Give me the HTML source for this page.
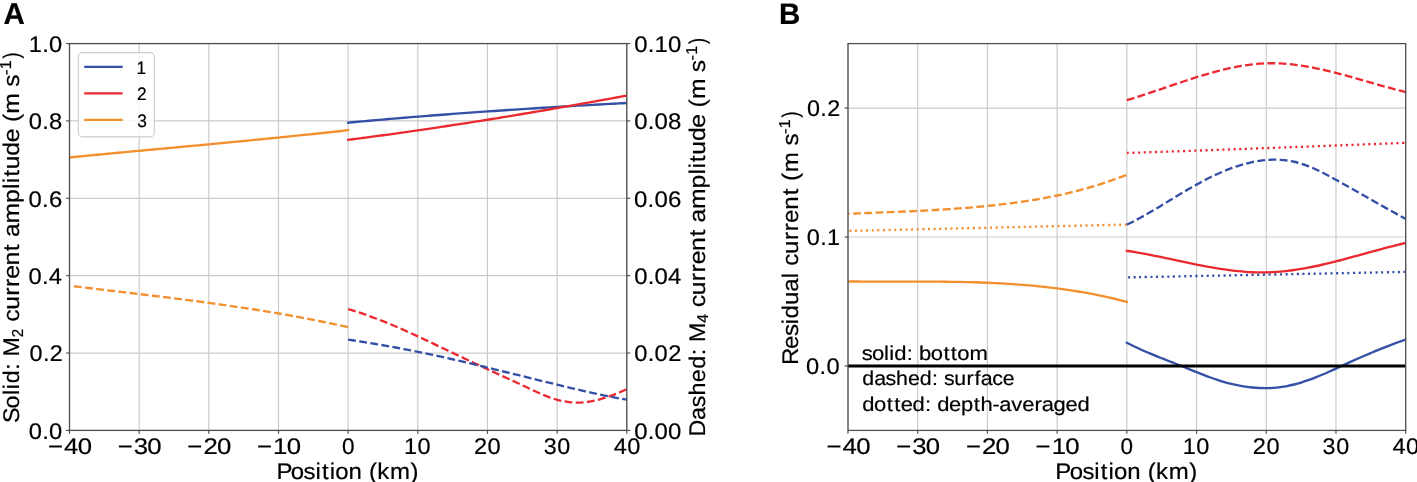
<!DOCTYPE html>
<html><head><meta charset="utf-8"><style>
html,body{margin:0;padding:0;background:#fff;}
body{width:1417px;height:482px;overflow:hidden;}
svg{display:block;will-change:transform;}
text{font-family:"Liberation Sans", sans-serif;stroke:#000;stroke-width:0.2px;text-rendering:geometricPrecision;}
</style></head><body>
<svg width="1417" height="482" viewBox="0 0 1417 482" font-family="&quot;Liberation Sans&quot;, sans-serif" stroke-width="0">
<rect width="1417" height="482" fill="#fff"/>
<line x1="69.50" y1="43.55" x2="69.50" y2="430.42" stroke="#cbcbcb" stroke-width="1.2"/>
<line x1="139.16" y1="43.55" x2="139.16" y2="430.42" stroke="#cbcbcb" stroke-width="1.2"/>
<line x1="208.82" y1="43.55" x2="208.82" y2="430.42" stroke="#cbcbcb" stroke-width="1.2"/>
<line x1="278.49" y1="43.55" x2="278.49" y2="430.42" stroke="#cbcbcb" stroke-width="1.2"/>
<line x1="348.15" y1="43.55" x2="348.15" y2="430.42" stroke="#cbcbcb" stroke-width="1.2"/>
<line x1="417.81" y1="43.55" x2="417.81" y2="430.42" stroke="#cbcbcb" stroke-width="1.2"/>
<line x1="487.47" y1="43.55" x2="487.47" y2="430.42" stroke="#cbcbcb" stroke-width="1.2"/>
<line x1="557.14" y1="43.55" x2="557.14" y2="430.42" stroke="#cbcbcb" stroke-width="1.2"/>
<line x1="626.80" y1="43.55" x2="626.80" y2="430.42" stroke="#cbcbcb" stroke-width="1.2"/>
<line x1="69.50" y1="430.42" x2="626.80" y2="430.42" stroke="#cbcbcb" stroke-width="1.2"/>
<line x1="69.50" y1="353.05" x2="626.80" y2="353.05" stroke="#cbcbcb" stroke-width="1.2"/>
<line x1="69.50" y1="275.67" x2="626.80" y2="275.67" stroke="#cbcbcb" stroke-width="1.2"/>
<line x1="69.50" y1="198.30" x2="626.80" y2="198.30" stroke="#cbcbcb" stroke-width="1.2"/>
<line x1="69.50" y1="120.92" x2="626.80" y2="120.92" stroke="#cbcbcb" stroke-width="1.2"/>
<line x1="69.50" y1="43.55" x2="626.80" y2="43.55" stroke="#cbcbcb" stroke-width="1.2"/>
<line x1="848.00" y1="43.60" x2="848.00" y2="430.42" stroke="#cbcbcb" stroke-width="1.2"/>
<line x1="917.71" y1="43.60" x2="917.71" y2="430.42" stroke="#cbcbcb" stroke-width="1.2"/>
<line x1="987.42" y1="43.60" x2="987.42" y2="430.42" stroke="#cbcbcb" stroke-width="1.2"/>
<line x1="1057.13" y1="43.60" x2="1057.13" y2="430.42" stroke="#cbcbcb" stroke-width="1.2"/>
<line x1="1126.84" y1="43.60" x2="1126.84" y2="430.42" stroke="#cbcbcb" stroke-width="1.2"/>
<line x1="1196.54" y1="43.60" x2="1196.54" y2="430.42" stroke="#cbcbcb" stroke-width="1.2"/>
<line x1="1266.25" y1="43.60" x2="1266.25" y2="430.42" stroke="#cbcbcb" stroke-width="1.2"/>
<line x1="1335.96" y1="43.60" x2="1335.96" y2="430.42" stroke="#cbcbcb" stroke-width="1.2"/>
<line x1="1405.67" y1="43.60" x2="1405.67" y2="430.42" stroke="#cbcbcb" stroke-width="1.2"/>
<line x1="848.00" y1="365.95" x2="1405.67" y2="365.95" stroke="#cbcbcb" stroke-width="1.2"/>
<line x1="848.00" y1="237.01" x2="1405.67" y2="237.01" stroke="#cbcbcb" stroke-width="1.2"/>
<line x1="848.00" y1="108.07" x2="1405.67" y2="108.07" stroke="#cbcbcb" stroke-width="1.2"/>
<defs><clipPath id="ca"><rect x="69.50" y="43.55" width="557.30" height="386.87"/></clipPath><clipPath id="cb"><rect x="848.00" y="43.60" width="557.67" height="386.82"/></clipPath></defs>
<g clip-path="url(#ca)">
<path d="M69.50,157.40 C70.66,157.29 74.14,156.95 76.47,156.73 C78.79,156.50 81.11,156.28 83.43,156.06 C85.75,155.83 88.08,155.61 90.40,155.39 C92.72,155.17 95.04,154.95 97.36,154.73 C99.69,154.51 102.01,154.29 104.33,154.07 C106.65,153.85 108.98,153.63 111.30,153.41 C113.62,153.19 115.94,152.97 118.26,152.75 C120.59,152.54 122.91,152.32 125.23,152.10 C127.55,151.88 129.87,151.67 132.20,151.45 C134.52,151.23 136.84,151.02 139.16,150.80 C141.48,150.58 143.81,150.37 146.13,150.15 C148.45,149.94 150.77,149.72 153.09,149.50 C155.42,149.29 157.74,149.07 160.06,148.86 C162.38,148.64 164.71,148.42 167.03,148.21 C169.35,147.99 171.67,147.78 173.99,147.56 C176.32,147.34 178.64,147.13 180.96,146.91 C183.28,146.69 185.60,146.48 187.93,146.26 C190.25,146.04 192.57,145.83 194.89,145.61 C197.21,145.39 199.54,145.17 201.86,144.96 C204.18,144.74 206.50,144.52 208.82,144.30 C211.15,144.08 213.47,143.86 215.79,143.64 C218.11,143.42 220.44,143.20 222.76,142.98 C225.08,142.76 227.40,142.54 229.72,142.32 C232.05,142.10 234.37,141.87 236.69,141.65 C239.01,141.43 241.33,141.20 243.66,140.98 C245.98,140.75 248.30,140.53 250.62,140.30 C252.94,140.08 255.27,139.85 257.59,139.62 C259.91,139.39 262.23,139.17 264.55,138.94 C266.88,138.71 269.20,138.48 271.52,138.25 C273.84,138.02 276.17,137.78 278.49,137.55 C280.81,137.32 283.13,137.08 285.45,136.85 C287.78,136.61 290.10,136.38 292.42,136.14 C294.74,135.90 297.06,135.66 299.39,135.42 C301.71,135.18 304.03,134.94 306.35,134.70 C308.67,134.46 311.00,134.22 313.32,133.97 C315.64,133.73 317.96,133.48 320.28,133.23 C322.61,132.99 324.93,132.74 327.25,132.49 C329.57,132.24 331.90,131.99 334.22,131.73 C336.54,131.48 338.86,131.23 341.18,130.97 C343.51,130.72 346.99,130.33 348.15,130.20" fill="none" stroke="#f2902e" stroke-width="2.35" stroke-linejoin="round" stroke-linecap="square"/>
<path d="M348.15,122.69 C349.31,122.58 352.79,122.26 355.12,122.04 C357.44,121.83 359.76,121.62 362.08,121.40 C364.40,121.19 366.73,120.98 369.05,120.78 C371.37,120.57 373.69,120.36 376.01,120.16 C378.34,119.95 380.66,119.75 382.98,119.55 C385.30,119.35 387.63,119.15 389.95,118.95 C392.27,118.75 394.59,118.55 396.91,118.36 C399.24,118.16 401.56,117.97 403.88,117.78 C406.20,117.58 408.52,117.39 410.85,117.20 C413.17,117.01 415.49,116.83 417.81,116.64 C420.13,116.45 422.46,116.27 424.78,116.08 C427.10,115.90 429.42,115.72 431.75,115.54 C434.07,115.36 436.39,115.18 438.71,115.00 C441.03,114.82 443.36,114.64 445.68,114.47 C448.00,114.29 450.32,114.12 452.64,113.94 C454.97,113.77 457.29,113.60 459.61,113.43 C461.93,113.26 464.25,113.09 466.58,112.92 C468.90,112.75 471.22,112.58 473.54,112.42 C475.86,112.25 478.19,112.09 480.51,111.93 C482.83,111.76 485.15,111.60 487.47,111.44 C489.80,111.28 492.12,111.12 494.44,110.96 C496.76,110.80 499.09,110.65 501.41,110.49 C503.73,110.33 506.05,110.18 508.37,110.02 C510.70,109.87 513.02,109.72 515.34,109.56 C517.66,109.41 519.98,109.26 522.31,109.11 C524.63,108.96 526.95,108.81 529.27,108.67 C531.59,108.52 533.92,108.37 536.24,108.23 C538.56,108.08 540.88,107.93 543.20,107.79 C545.53,107.65 547.85,107.50 550.17,107.36 C552.49,107.22 554.82,107.08 557.14,106.94 C559.46,106.80 561.78,106.66 564.10,106.52 C566.43,106.38 568.75,106.25 571.07,106.11 C573.39,105.97 575.71,105.84 578.04,105.70 C580.36,105.57 582.68,105.44 585.00,105.30 C587.32,105.17 589.65,105.04 591.97,104.91 C594.29,104.77 596.61,104.64 598.93,104.51 C601.26,104.38 603.58,104.25 605.90,104.13 C608.22,104.00 610.55,103.87 612.87,103.74 C615.19,103.62 617.51,103.49 619.83,103.36 C622.16,103.24 625.64,103.05 626.80,102.99" fill="none" stroke="#3450a6" stroke-width="2.35" stroke-linejoin="round" stroke-linecap="square"/>
<path d="M348.15,139.81 C349.31,139.66 352.79,139.22 355.12,138.92 C357.44,138.63 359.76,138.33 362.08,138.03 C364.40,137.73 366.73,137.42 369.05,137.12 C371.37,136.81 373.69,136.50 376.01,136.19 C378.34,135.88 380.66,135.57 382.98,135.26 C385.30,134.94 387.63,134.62 389.95,134.31 C392.27,133.99 394.59,133.67 396.91,133.34 C399.24,133.02 401.56,132.69 403.88,132.37 C406.20,132.04 408.52,131.71 410.85,131.38 C413.17,131.05 415.49,130.71 417.81,130.38 C420.13,130.04 422.46,129.70 424.78,129.36 C427.10,129.02 429.42,128.68 431.75,128.34 C434.07,128.00 436.39,127.65 438.71,127.30 C441.03,126.96 443.36,126.61 445.68,126.25 C448.00,125.90 450.32,125.55 452.64,125.19 C454.97,124.84 457.29,124.48 459.61,124.12 C461.93,123.77 464.25,123.41 466.58,123.04 C468.90,122.68 471.22,122.32 473.54,121.95 C475.86,121.58 478.19,121.22 480.51,120.85 C482.83,120.48 485.15,120.11 487.47,119.73 C489.80,119.36 492.12,118.99 494.44,118.61 C496.76,118.23 499.09,117.86 501.41,117.48 C503.73,117.10 506.05,116.72 508.37,116.33 C510.70,115.95 513.02,115.57 515.34,115.18 C517.66,114.80 519.98,114.41 522.31,114.02 C524.63,113.63 526.95,113.24 529.27,112.85 C531.59,112.46 533.92,112.06 536.24,111.67 C538.56,111.27 540.88,110.88 543.20,110.48 C545.53,110.08 547.85,109.68 550.17,109.28 C552.49,108.88 554.82,108.48 557.14,108.08 C559.46,107.67 561.78,107.27 564.10,106.86 C566.43,106.46 568.75,106.05 571.07,105.64 C573.39,105.23 575.71,104.82 578.04,104.41 C580.36,104.00 582.68,103.59 585.00,103.18 C587.32,102.76 589.65,102.35 591.97,101.93 C594.29,101.51 596.61,101.10 598.93,100.68 C601.26,100.26 603.58,99.84 605.90,99.42 C608.22,99.00 610.55,98.58 612.87,98.16 C615.19,97.73 617.51,97.31 619.83,96.88 C622.16,96.46 625.64,95.82 626.80,95.61" fill="none" stroke="#ea2a30" stroke-width="2.35" stroke-linejoin="round" stroke-linecap="square"/>
<path d="M69.50,285.71 C70.66,285.85 74.14,286.28 76.47,286.56 C78.79,286.85 81.11,287.13 83.43,287.41 C85.75,287.69 88.08,287.97 90.40,288.25 C92.72,288.53 95.04,288.80 97.36,289.08 C99.69,289.36 102.01,289.64 104.33,289.91 C106.65,290.19 108.98,290.47 111.30,290.74 C113.62,291.02 115.94,291.29 118.26,291.57 C120.59,291.85 122.91,292.12 125.23,292.40 C127.55,292.67 129.87,292.95 132.20,293.23 C134.52,293.50 136.84,293.78 139.16,294.06 C141.48,294.34 143.81,294.62 146.13,294.90 C148.45,295.18 150.77,295.46 153.09,295.74 C155.42,296.02 157.74,296.31 160.06,296.59 C162.38,296.88 164.71,297.16 167.03,297.45 C169.35,297.74 171.67,298.03 173.99,298.32 C176.32,298.61 178.64,298.90 180.96,299.20 C183.28,299.50 185.60,299.79 187.93,300.09 C190.25,300.39 192.57,300.69 194.89,301.00 C197.21,301.30 199.54,301.61 201.86,301.92 C204.18,302.23 206.50,302.54 208.82,302.86 C211.15,303.18 213.47,303.49 215.79,303.82 C218.11,304.14 220.44,304.46 222.76,304.79 C225.08,305.12 227.40,305.45 229.72,305.79 C232.05,306.13 234.37,306.46 236.69,306.81 C239.01,307.15 241.33,307.50 243.66,307.85 C245.98,308.20 248.30,308.56 250.62,308.92 C252.94,309.28 255.27,309.64 257.59,310.01 C259.91,310.38 262.23,310.75 264.55,311.13 C266.88,311.51 269.20,311.89 271.52,312.28 C273.84,312.67 276.17,313.06 278.49,313.46 C280.81,313.86 283.13,314.26 285.45,314.67 C287.78,315.08 290.10,315.49 292.42,315.91 C294.74,316.34 297.06,316.76 299.39,317.19 C301.71,317.62 304.03,318.06 306.35,318.51 C308.67,318.95 311.00,319.40 313.32,319.86 C315.64,320.31 317.96,320.78 320.28,321.25 C322.61,321.72 324.93,322.19 327.25,322.67 C329.57,323.16 331.90,323.65 334.22,324.14 C336.54,324.64 338.86,325.14 341.18,325.65 C343.51,326.17 346.99,326.95 348.15,327.21" fill="none" stroke="#f2902e" stroke-width="2.35" stroke-linejoin="round" stroke-dasharray="7.83 3.39" stroke-dashoffset="6.80"/>
<path d="M348.15,309.17 C349.31,309.52 352.79,310.52 355.12,311.24 C357.44,311.96 359.76,312.71 362.08,313.49 C364.40,314.27 366.73,315.07 369.05,315.91 C371.37,316.74 373.69,317.60 376.01,318.48 C378.34,319.36 380.66,320.27 382.98,321.20 C385.30,322.13 387.63,323.08 389.95,324.04 C392.27,325.01 394.59,325.99 396.91,327.00 C399.24,328.00 401.56,329.02 403.88,330.05 C406.20,331.08 408.52,332.12 410.85,333.18 C413.17,334.23 415.49,335.30 417.81,336.38 C420.13,337.45 422.46,338.54 424.78,339.63 C427.10,340.72 429.42,341.82 431.75,342.92 C434.07,344.02 436.39,345.13 438.71,346.24 C441.03,347.34 443.36,348.45 445.68,349.56 C448.00,350.67 450.32,351.77 452.64,352.88 C454.97,353.98 457.29,355.08 459.61,356.18 C461.93,357.27 464.25,358.37 466.58,359.46 C468.90,360.55 471.22,361.63 473.54,362.72 C475.86,363.80 478.19,364.88 480.51,365.96 C482.83,367.04 485.15,368.12 487.47,369.19 C489.80,370.26 492.12,371.33 494.44,372.40 C496.76,373.47 499.09,374.54 501.41,375.60 C503.73,376.67 506.05,377.73 508.37,378.79 C510.70,379.86 513.02,380.92 515.34,381.99 C517.66,383.07 519.98,384.15 522.31,385.24 C524.63,386.34 526.95,387.46 529.27,388.55 C531.59,389.64 533.92,390.75 536.24,391.80 C538.56,392.85 540.88,393.89 543.20,394.85 C545.53,395.81 547.85,396.74 550.17,397.56 C552.49,398.38 554.82,399.14 557.14,399.78 C559.46,400.41 561.78,400.96 564.10,401.38 C566.43,401.81 568.75,402.13 571.07,402.34 C573.39,402.55 575.71,402.64 578.04,402.63 C580.36,402.61 582.68,402.47 585.00,402.23 C587.32,402.00 589.65,401.64 591.97,401.20 C594.29,400.77 596.61,400.22 598.93,399.61 C601.26,399.00 603.58,398.30 605.90,397.54 C608.22,396.78 610.55,395.94 612.87,395.06 C615.19,394.17 617.51,393.23 619.83,392.25 C622.16,391.27 625.64,389.70 626.80,389.19" fill="none" stroke="#ea2a30" stroke-width="2.35" stroke-linejoin="round" stroke-dasharray="7.83 3.39" stroke-dashoffset="0.00"/>
<path d="M348.15,339.62 C349.31,339.79 352.79,340.32 355.12,340.67 C357.44,341.03 359.76,341.40 362.08,341.77 C364.40,342.14 366.73,342.51 369.05,342.89 C371.37,343.27 373.69,343.66 376.01,344.05 C378.34,344.45 380.66,344.85 382.98,345.25 C385.30,345.66 387.63,346.07 389.95,346.48 C392.27,346.90 394.59,347.32 396.91,347.75 C399.24,348.18 401.56,348.62 403.88,349.06 C406.20,349.50 408.52,349.95 410.85,350.40 C413.17,350.86 415.49,351.32 417.81,351.78 C420.13,352.25 422.46,352.72 424.78,353.20 C427.10,353.68 429.42,354.16 431.75,354.66 C434.07,355.15 436.39,355.65 438.71,356.15 C441.03,356.66 443.36,357.17 445.68,357.68 C448.00,358.20 450.32,358.73 452.64,359.26 C454.97,359.79 457.29,360.32 459.61,360.87 C461.93,361.41 464.25,361.96 466.58,362.51 C468.90,363.06 471.22,363.62 473.54,364.18 C475.86,364.74 478.19,365.30 480.51,365.86 C482.83,366.43 485.15,366.99 487.47,367.56 C489.80,368.13 492.12,368.70 494.44,369.27 C496.76,369.84 499.09,370.41 501.41,370.98 C503.73,371.55 506.05,372.12 508.37,372.69 C510.70,373.26 513.02,373.83 515.34,374.41 C517.66,374.98 519.98,375.55 522.31,376.12 C524.63,376.69 526.95,377.27 529.27,377.84 C531.59,378.41 533.92,378.98 536.24,379.55 C538.56,380.12 540.88,380.69 543.20,381.26 C545.53,381.83 547.85,382.40 550.17,382.97 C552.49,383.53 554.82,384.10 557.14,384.66 C559.46,385.23 561.78,385.79 564.10,386.35 C566.43,386.91 568.75,387.47 571.07,388.02 C573.39,388.57 575.71,389.12 578.04,389.66 C580.36,390.21 582.68,390.74 585.00,391.27 C587.32,391.80 589.65,392.32 591.97,392.84 C594.29,393.35 596.61,393.86 598.93,394.35 C601.26,394.84 603.58,395.33 605.90,395.80 C608.22,396.27 610.55,396.74 612.87,397.18 C615.19,397.63 617.51,398.07 619.83,398.49 C622.16,398.91 625.64,399.50 626.80,399.70" fill="none" stroke="#3450a6" stroke-width="2.35" stroke-linejoin="round" stroke-dasharray="7.83 3.39" stroke-dashoffset="0.00"/>
</g>
<g clip-path="url(#cb)">
<path d="M848.00,213.83 C849.16,213.78 852.65,213.64 854.97,213.54 C857.29,213.44 859.62,213.35 861.94,213.25 C864.27,213.16 866.59,213.07 868.91,212.98 C871.24,212.88 873.56,212.79 875.88,212.70 C878.21,212.61 880.53,212.51 882.85,212.42 C885.18,212.33 887.50,212.23 889.83,212.14 C892.15,212.04 894.47,211.94 896.80,211.85 C899.12,211.75 901.44,211.65 903.77,211.54 C906.09,211.44 908.41,211.34 910.74,211.23 C913.06,211.12 915.39,211.01 917.71,210.90 C920.03,210.78 922.36,210.67 924.68,210.55 C927.00,210.42 929.33,210.30 931.65,210.17 C933.97,210.04 936.30,209.91 938.62,209.77 C940.95,209.63 943.27,209.49 945.59,209.34 C947.92,209.19 950.24,209.03 952.56,208.87 C954.89,208.71 957.21,208.55 959.53,208.37 C961.86,208.20 964.18,208.02 966.50,207.84 C968.83,207.65 971.15,207.46 973.48,207.26 C975.80,207.06 978.12,206.85 980.45,206.63 C982.77,206.41 985.09,206.19 987.42,205.96 C989.74,205.72 992.06,205.48 994.39,205.23 C996.71,204.98 999.04,204.72 1001.36,204.45 C1003.68,204.18 1006.01,203.90 1008.33,203.60 C1010.65,203.31 1012.98,203.01 1015.30,202.69 C1017.62,202.38 1019.95,202.05 1022.27,201.71 C1024.60,201.37 1026.92,201.02 1029.24,200.65 C1031.57,200.28 1033.89,199.90 1036.21,199.50 C1038.54,199.11 1040.86,198.70 1043.18,198.27 C1045.51,197.85 1047.83,197.41 1050.16,196.95 C1052.48,196.49 1054.80,196.02 1057.13,195.52 C1059.45,195.03 1061.77,194.52 1064.10,194.00 C1066.42,193.47 1068.74,192.93 1071.07,192.36 C1073.39,191.80 1075.72,191.21 1078.04,190.61 C1080.36,190.01 1082.69,189.39 1085.01,188.74 C1087.33,188.10 1089.66,187.44 1091.98,186.75 C1094.30,186.06 1096.63,185.36 1098.95,184.63 C1101.28,183.90 1103.60,183.15 1105.92,182.37 C1108.25,181.59 1110.57,180.80 1112.89,179.97 C1115.22,179.15 1117.54,178.30 1119.86,177.43 C1122.19,176.56 1125.67,175.19 1126.84,174.74" fill="none" stroke="#f2902e" stroke-width="2.35" stroke-linejoin="round" stroke-dasharray="7.83 3.39" stroke-dashoffset="6.12"/>
<path d="M848.00,230.90 C894.47,229.85 1080.36,225.65 1126.84,224.60" fill="none" stroke="#f2902e" stroke-width="2.35" stroke-linejoin="round" stroke-dasharray="2.12 3.5" stroke-dashoffset="4.22"/>
<path d="M848.00,281.46 C849.16,281.47 852.65,281.50 854.97,281.51 C857.29,281.53 859.62,281.54 861.94,281.55 C864.27,281.56 866.59,281.57 868.91,281.57 C871.24,281.58 873.56,281.58 875.88,281.58 C878.21,281.58 880.53,281.58 882.85,281.58 C885.18,281.58 887.50,281.58 889.83,281.57 C892.15,281.57 894.47,281.57 896.80,281.57 C899.12,281.56 901.44,281.56 903.77,281.56 C906.09,281.56 908.41,281.56 910.74,281.56 C913.06,281.56 915.39,281.56 917.71,281.56 C920.03,281.56 922.36,281.57 924.68,281.58 C927.00,281.59 929.33,281.59 931.65,281.61 C933.97,281.62 936.30,281.64 938.62,281.66 C940.95,281.68 943.27,281.70 945.59,281.72 C947.92,281.75 950.24,281.78 952.56,281.82 C954.89,281.85 957.21,281.89 959.53,281.94 C961.86,281.99 964.18,282.04 966.50,282.09 C968.83,282.15 971.15,282.21 973.48,282.28 C975.80,282.35 978.12,282.42 980.45,282.50 C982.77,282.59 985.09,282.67 987.42,282.77 C989.74,282.86 992.06,282.97 994.39,283.08 C996.71,283.19 999.04,283.31 1001.36,283.44 C1003.68,283.56 1006.01,283.70 1008.33,283.85 C1010.65,283.99 1012.98,284.14 1015.30,284.31 C1017.62,284.47 1019.95,284.65 1022.27,284.83 C1024.60,285.01 1026.92,285.21 1029.24,285.41 C1031.57,285.62 1033.89,285.83 1036.21,286.06 C1038.54,286.29 1040.86,286.52 1043.18,286.77 C1045.51,287.02 1047.83,287.28 1050.16,287.56 C1052.48,287.83 1054.80,288.12 1057.13,288.42 C1059.45,288.72 1061.77,289.03 1064.10,289.36 C1066.42,289.68 1068.74,290.02 1071.07,290.37 C1073.39,290.73 1075.72,291.09 1078.04,291.48 C1080.36,291.86 1082.69,292.26 1085.01,292.67 C1087.33,293.08 1089.66,293.51 1091.98,293.95 C1094.30,294.39 1096.63,294.85 1098.95,295.33 C1101.28,295.80 1103.60,296.29 1105.92,296.80 C1108.25,297.31 1110.57,297.83 1112.89,298.38 C1115.22,298.92 1117.54,299.48 1119.86,300.06 C1122.19,300.63 1125.67,301.55 1126.84,301.84" fill="none" stroke="#f2902e" stroke-width="2.35" stroke-linejoin="round" stroke-linecap="square"/>
<path d="M1126.84,100.19 C1128.00,99.83 1131.48,98.78 1133.81,98.05 C1136.13,97.32 1138.45,96.58 1140.78,95.83 C1143.10,95.07 1145.42,94.31 1147.75,93.54 C1150.07,92.77 1152.39,91.98 1154.72,91.20 C1157.04,90.42 1159.37,89.63 1161.69,88.84 C1164.01,88.05 1166.34,87.25 1168.66,86.46 C1170.98,85.67 1173.31,84.88 1175.63,84.10 C1177.95,83.31 1180.28,82.53 1182.60,81.76 C1184.93,80.99 1187.25,80.22 1189.57,79.47 C1191.90,78.71 1194.22,77.97 1196.54,77.24 C1198.87,76.52 1201.19,75.80 1203.51,75.10 C1205.84,74.41 1208.16,73.73 1210.49,73.07 C1212.81,72.41 1215.13,71.78 1217.46,71.17 C1219.78,70.56 1222.10,69.97 1224.43,69.41 C1226.75,68.86 1229.07,68.33 1231.40,67.83 C1233.72,67.34 1236.05,66.88 1238.37,66.45 C1240.69,66.03 1243.02,65.63 1245.34,65.29 C1247.66,64.94 1249.99,64.63 1252.31,64.36 C1254.63,64.10 1256.96,63.87 1259.28,63.70 C1261.61,63.52 1263.93,63.40 1266.25,63.32 C1268.58,63.24 1270.90,63.22 1273.22,63.24 C1275.55,63.26 1277.87,63.34 1280.19,63.45 C1282.52,63.56 1284.84,63.72 1287.17,63.92 C1289.49,64.12 1291.81,64.36 1294.14,64.64 C1296.46,64.91 1298.78,65.23 1301.11,65.58 C1303.43,65.92 1305.75,66.30 1308.08,66.72 C1310.40,67.13 1312.73,67.57 1315.05,68.04 C1317.37,68.50 1319.70,69.00 1322.02,69.52 C1324.34,70.03 1326.67,70.58 1328.99,71.13 C1331.31,71.69 1333.64,72.28 1335.96,72.87 C1338.28,73.47 1340.61,74.08 1342.93,74.70 C1345.26,75.33 1347.58,75.97 1349.90,76.61 C1352.23,77.26 1354.55,77.91 1356.87,78.57 C1359.20,79.23 1361.52,79.90 1363.84,80.57 C1366.17,81.23 1368.49,81.91 1370.82,82.58 C1373.14,83.24 1375.46,83.91 1377.79,84.57 C1380.11,85.24 1382.43,85.89 1384.76,86.54 C1387.08,87.19 1389.40,87.83 1391.73,88.46 C1394.05,89.09 1396.38,89.71 1398.70,90.31 C1401.02,90.91 1404.51,91.77 1405.67,92.06" fill="none" stroke="#ea2a30" stroke-width="2.35" stroke-linejoin="round" stroke-dasharray="7.83 3.39" stroke-dashoffset="0.00"/>
<path d="M1126.84,153.00 C1128.00,152.96 1131.48,152.84 1133.81,152.76 C1136.13,152.69 1138.45,152.61 1140.78,152.53 C1143.10,152.45 1145.42,152.37 1147.75,152.29 C1150.07,152.21 1152.39,152.13 1154.72,152.05 C1157.04,151.97 1159.37,151.89 1161.69,151.81 C1164.01,151.73 1166.34,151.65 1168.66,151.57 C1170.98,151.49 1173.31,151.41 1175.63,151.33 C1177.95,151.25 1180.28,151.17 1182.60,151.09 C1184.93,151.01 1187.25,150.93 1189.57,150.84 C1191.90,150.76 1194.22,150.68 1196.54,150.60 C1198.87,150.52 1201.19,150.44 1203.51,150.35 C1205.84,150.27 1208.16,150.19 1210.49,150.11 C1212.81,150.03 1215.13,149.94 1217.46,149.86 C1219.78,149.78 1222.10,149.69 1224.43,149.61 C1226.75,149.53 1229.07,149.45 1231.40,149.36 C1233.72,149.28 1236.05,149.20 1238.37,149.11 C1240.69,149.03 1243.02,148.94 1245.34,148.86 C1247.66,148.78 1249.99,148.69 1252.31,148.61 C1254.63,148.52 1256.96,148.44 1259.28,148.35 C1261.61,148.27 1263.93,148.18 1266.25,148.10 C1268.58,148.01 1270.90,147.93 1273.22,147.84 C1275.55,147.76 1277.87,147.67 1280.19,147.59 C1282.52,147.50 1284.84,147.42 1287.17,147.33 C1289.49,147.24 1291.81,147.16 1294.14,147.07 C1296.46,146.99 1298.78,146.90 1301.11,146.81 C1303.43,146.73 1305.75,146.64 1308.08,146.55 C1310.40,146.47 1312.73,146.38 1315.05,146.29 C1317.37,146.20 1319.70,146.12 1322.02,146.03 C1324.34,145.94 1326.67,145.85 1328.99,145.76 C1331.31,145.68 1333.64,145.59 1335.96,145.50 C1338.28,145.41 1340.61,145.32 1342.93,145.23 C1345.26,145.15 1347.58,145.06 1349.90,144.97 C1352.23,144.88 1354.55,144.79 1356.87,144.70 C1359.20,144.61 1361.52,144.52 1363.84,144.43 C1366.17,144.34 1368.49,144.25 1370.82,144.16 C1373.14,144.07 1375.46,143.98 1377.79,143.89 C1380.11,143.80 1382.43,143.71 1384.76,143.62 C1387.08,143.53 1389.40,143.44 1391.73,143.35 C1394.05,143.26 1396.38,143.17 1398.70,143.07 C1401.02,142.98 1404.51,142.85 1405.67,142.80" fill="none" stroke="#ea2a30" stroke-width="2.35" stroke-linejoin="round" stroke-dasharray="2.12 3.5" stroke-dashoffset="0.00"/>
<path d="M1126.84,224.62 C1128.00,224.05 1131.48,222.38 1133.81,221.19 C1136.13,220.00 1138.45,218.77 1140.78,217.50 C1143.10,216.23 1145.42,214.92 1147.75,213.60 C1150.07,212.27 1152.39,210.90 1154.72,209.53 C1157.04,208.16 1159.37,206.76 1161.69,205.35 C1164.01,203.95 1166.34,202.53 1168.66,201.12 C1170.98,199.70 1173.31,198.28 1175.63,196.87 C1177.95,195.47 1180.28,194.06 1182.60,192.67 C1184.93,191.29 1187.25,189.91 1189.57,188.56 C1191.90,187.22 1194.22,185.89 1196.54,184.60 C1198.87,183.30 1201.19,182.04 1203.51,180.82 C1205.84,179.60 1208.16,178.41 1210.49,177.27 C1212.81,176.12 1215.13,175.02 1217.46,173.96 C1219.78,172.90 1222.10,171.89 1224.43,170.93 C1226.75,169.97 1229.07,169.06 1231.40,168.20 C1233.72,167.35 1236.05,166.54 1238.37,165.80 C1240.69,165.06 1243.02,164.38 1245.34,163.76 C1247.66,163.14 1249.99,162.59 1252.31,162.10 C1254.63,161.62 1256.96,161.20 1259.28,160.85 C1261.61,160.51 1263.93,160.23 1266.25,160.04 C1268.58,159.85 1270.90,159.73 1273.22,159.69 C1275.55,159.66 1277.87,159.70 1280.19,159.84 C1282.52,159.98 1284.84,160.20 1287.17,160.52 C1289.49,160.84 1291.81,161.25 1294.14,161.76 C1296.46,162.28 1298.78,162.89 1301.11,163.60 C1303.43,164.31 1305.75,165.14 1308.08,166.04 C1310.40,166.94 1312.73,167.95 1315.05,169.00 C1317.37,170.05 1319.70,171.19 1322.02,172.36 C1324.34,173.52 1326.67,174.76 1328.99,176.00 C1331.31,177.24 1333.64,178.53 1335.96,179.81 C1338.28,181.09 1340.61,182.39 1342.93,183.69 C1345.26,184.99 1347.58,186.30 1349.90,187.61 C1352.23,188.93 1354.55,190.25 1356.87,191.57 C1359.20,192.88 1361.52,194.21 1363.84,195.53 C1366.17,196.85 1368.49,198.18 1370.82,199.50 C1373.14,200.82 1375.46,202.14 1377.79,203.45 C1380.11,204.77 1382.43,206.08 1384.76,207.38 C1387.08,208.69 1389.40,209.98 1391.73,211.27 C1394.05,212.56 1396.38,213.84 1398.70,215.11 C1401.02,216.38 1404.51,218.25 1405.67,218.88" fill="none" stroke="#3450a6" stroke-width="2.35" stroke-linejoin="round" stroke-dasharray="7.83 3.39" stroke-dashoffset="0.00"/>
<path d="M1126.84,250.81 C1128.00,250.99 1131.48,251.51 1133.81,251.90 C1136.13,252.28 1138.45,252.68 1140.78,253.10 C1143.10,253.52 1145.42,253.96 1147.75,254.40 C1150.07,254.85 1152.39,255.31 1154.72,255.78 C1157.04,256.24 1159.37,256.72 1161.69,257.21 C1164.01,257.69 1166.34,258.18 1168.66,258.68 C1170.98,259.17 1173.31,259.67 1175.63,260.16 C1177.95,260.66 1180.28,261.16 1182.60,261.65 C1184.93,262.14 1187.25,262.63 1189.57,263.11 C1191.90,263.59 1194.22,264.07 1196.54,264.54 C1198.87,265.00 1201.19,265.46 1203.51,265.90 C1205.84,266.35 1208.16,266.78 1210.49,267.19 C1212.81,267.61 1215.13,268.01 1217.46,268.39 C1219.78,268.76 1222.10,269.12 1224.43,269.46 C1226.75,269.80 1229.07,270.11 1231.40,270.40 C1233.72,270.69 1236.05,270.95 1238.37,271.19 C1240.69,271.42 1243.02,271.63 1245.34,271.80 C1247.66,271.97 1249.99,272.12 1252.31,272.22 C1254.63,272.33 1256.96,272.40 1259.28,272.43 C1261.61,272.46 1263.93,272.45 1266.25,272.41 C1268.58,272.36 1270.90,272.27 1273.22,272.14 C1275.55,272.01 1277.87,271.84 1280.19,271.64 C1282.52,271.44 1284.84,271.20 1287.17,270.93 C1289.49,270.66 1291.81,270.35 1294.14,270.02 C1296.46,269.68 1298.78,269.32 1301.11,268.92 C1303.43,268.53 1305.75,268.11 1308.08,267.67 C1310.40,267.23 1312.73,266.76 1315.05,266.27 C1317.37,265.79 1319.70,265.27 1322.02,264.75 C1324.34,264.22 1326.67,263.67 1328.99,263.11 C1331.31,262.55 1333.64,261.98 1335.96,261.39 C1338.28,260.80 1340.61,260.20 1342.93,259.59 C1345.26,258.98 1347.58,258.35 1349.90,257.73 C1352.23,257.10 1354.55,256.47 1356.87,255.83 C1359.20,255.20 1361.52,254.55 1363.84,253.91 C1366.17,253.27 1368.49,252.63 1370.82,251.99 C1373.14,251.35 1375.46,250.71 1377.79,250.08 C1380.11,249.45 1382.43,248.82 1384.76,248.21 C1387.08,247.59 1389.40,246.98 1391.73,246.38 C1394.05,245.78 1396.38,245.19 1398.70,244.62 C1401.02,244.04 1404.51,243.22 1405.67,242.94" fill="none" stroke="#ea2a30" stroke-width="2.35" stroke-linejoin="round" stroke-linecap="square"/>
<path d="M1126.84,277.40 C1173.31,276.48 1359.20,272.82 1405.67,271.90" fill="none" stroke="#3450a6" stroke-width="2.35" stroke-linejoin="round" stroke-dasharray="2.12 3.5" stroke-dashoffset="4.40"/>
<path d="M1126.84,342.76 C1128.00,343.34 1131.48,345.11 1133.81,346.22 C1136.13,347.33 1138.45,348.40 1140.78,349.45 C1143.10,350.50 1145.42,351.51 1147.75,352.50 C1150.07,353.49 1152.39,354.45 1154.72,355.41 C1157.04,356.36 1159.37,357.29 1161.69,358.22 C1164.01,359.15 1166.34,360.06 1168.66,360.98 C1170.98,361.89 1173.31,362.80 1175.63,363.72 C1177.95,364.65 1180.28,365.57 1182.60,366.50 C1184.93,367.44 1187.25,368.39 1189.57,369.33 C1191.90,370.27 1194.22,371.22 1196.54,372.15 C1198.87,373.08 1201.19,374.00 1203.51,374.89 C1205.84,375.79 1208.16,376.67 1210.49,377.50 C1212.81,378.34 1215.13,379.16 1217.46,379.92 C1219.78,380.68 1222.10,381.40 1224.43,382.07 C1226.75,382.74 1229.07,383.36 1231.40,383.92 C1233.72,384.49 1236.05,385.00 1238.37,385.46 C1240.69,385.92 1243.02,386.33 1245.34,386.67 C1247.66,387.02 1249.99,387.31 1252.31,387.54 C1254.63,387.76 1256.96,387.93 1259.28,388.04 C1261.61,388.14 1263.93,388.18 1266.25,388.16 C1268.58,388.13 1270.90,388.04 1273.22,387.88 C1275.55,387.72 1277.87,387.49 1280.19,387.19 C1282.52,386.89 1284.84,386.52 1287.17,386.07 C1289.49,385.63 1291.81,385.10 1294.14,384.51 C1296.46,383.92 1298.78,383.26 1301.11,382.54 C1303.43,381.83 1305.75,381.04 1308.08,380.22 C1310.40,379.40 1312.73,378.52 1315.05,377.61 C1317.37,376.70 1319.70,375.74 1322.02,374.76 C1324.34,373.78 1326.67,372.76 1328.99,371.73 C1331.31,370.71 1333.64,369.65 1335.96,368.59 C1338.28,367.53 1340.61,366.46 1342.93,365.39 C1345.26,364.32 1347.58,363.24 1349.90,362.19 C1352.23,361.13 1354.55,360.07 1356.87,359.04 C1359.20,358.01 1361.52,356.99 1363.84,355.98 C1366.17,354.98 1368.49,353.99 1370.82,353.02 C1373.14,352.04 1375.46,351.08 1377.79,350.14 C1380.11,349.19 1382.43,348.26 1384.76,347.35 C1387.08,346.43 1389.40,345.53 1391.73,344.64 C1394.05,343.76 1396.38,342.88 1398.70,342.02 C1401.02,341.17 1404.51,339.91 1405.67,339.49" fill="none" stroke="#3450a6" stroke-width="2.35" stroke-linejoin="round" stroke-linecap="square"/>
</g>
<line x1="848.00" y1="365.95" x2="1405.67" y2="365.95" stroke="#000" stroke-width="2.9"/>
<rect x="69.50" y="43.55" width="557.30" height="386.87" fill="none" stroke="#4d4d4d" stroke-width="1.25"/>
<line x1="69.50" y1="430.42" x2="69.50" y2="433.82" stroke="#4d4d4d" stroke-width="1.15"/>
<line x1="139.16" y1="430.42" x2="139.16" y2="433.82" stroke="#4d4d4d" stroke-width="1.15"/>
<line x1="208.82" y1="430.42" x2="208.82" y2="433.82" stroke="#4d4d4d" stroke-width="1.15"/>
<line x1="278.49" y1="430.42" x2="278.49" y2="433.82" stroke="#4d4d4d" stroke-width="1.15"/>
<line x1="348.15" y1="430.42" x2="348.15" y2="433.82" stroke="#4d4d4d" stroke-width="1.15"/>
<line x1="417.81" y1="430.42" x2="417.81" y2="433.82" stroke="#4d4d4d" stroke-width="1.15"/>
<line x1="487.47" y1="430.42" x2="487.47" y2="433.82" stroke="#4d4d4d" stroke-width="1.15"/>
<line x1="557.14" y1="430.42" x2="557.14" y2="433.82" stroke="#4d4d4d" stroke-width="1.15"/>
<line x1="626.80" y1="430.42" x2="626.80" y2="433.82" stroke="#4d4d4d" stroke-width="1.15"/>
<line x1="66.10" y1="430.42" x2="69.50" y2="430.42" stroke="#4d4d4d" stroke-width="1.15"/>
<line x1="66.10" y1="353.05" x2="69.50" y2="353.05" stroke="#4d4d4d" stroke-width="1.15"/>
<line x1="66.10" y1="275.67" x2="69.50" y2="275.67" stroke="#4d4d4d" stroke-width="1.15"/>
<line x1="66.10" y1="198.30" x2="69.50" y2="198.30" stroke="#4d4d4d" stroke-width="1.15"/>
<line x1="66.10" y1="120.92" x2="69.50" y2="120.92" stroke="#4d4d4d" stroke-width="1.15"/>
<line x1="66.10" y1="43.55" x2="69.50" y2="43.55" stroke="#4d4d4d" stroke-width="1.15"/>
<line x1="626.80" y1="430.42" x2="630.20" y2="430.42" stroke="#4d4d4d" stroke-width="1.15"/>
<line x1="626.80" y1="353.05" x2="630.20" y2="353.05" stroke="#4d4d4d" stroke-width="1.15"/>
<line x1="626.80" y1="275.67" x2="630.20" y2="275.67" stroke="#4d4d4d" stroke-width="1.15"/>
<line x1="626.80" y1="198.30" x2="630.20" y2="198.30" stroke="#4d4d4d" stroke-width="1.15"/>
<line x1="626.80" y1="120.92" x2="630.20" y2="120.92" stroke="#4d4d4d" stroke-width="1.15"/>
<line x1="626.80" y1="43.55" x2="630.20" y2="43.55" stroke="#4d4d4d" stroke-width="1.15"/>
<rect x="848.00" y="43.60" width="557.67" height="386.82" fill="none" stroke="#4d4d4d" stroke-width="1.25"/>
<line x1="848.00" y1="430.42" x2="848.00" y2="433.82" stroke="#4d4d4d" stroke-width="1.15"/>
<line x1="917.71" y1="430.42" x2="917.71" y2="433.82" stroke="#4d4d4d" stroke-width="1.15"/>
<line x1="987.42" y1="430.42" x2="987.42" y2="433.82" stroke="#4d4d4d" stroke-width="1.15"/>
<line x1="1057.13" y1="430.42" x2="1057.13" y2="433.82" stroke="#4d4d4d" stroke-width="1.15"/>
<line x1="1126.84" y1="430.42" x2="1126.84" y2="433.82" stroke="#4d4d4d" stroke-width="1.15"/>
<line x1="1196.54" y1="430.42" x2="1196.54" y2="433.82" stroke="#4d4d4d" stroke-width="1.15"/>
<line x1="1266.25" y1="430.42" x2="1266.25" y2="433.82" stroke="#4d4d4d" stroke-width="1.15"/>
<line x1="1335.96" y1="430.42" x2="1335.96" y2="433.82" stroke="#4d4d4d" stroke-width="1.15"/>
<line x1="1405.67" y1="430.42" x2="1405.67" y2="433.82" stroke="#4d4d4d" stroke-width="1.15"/>
<line x1="844.60" y1="365.95" x2="848.00" y2="365.95" stroke="#4d4d4d" stroke-width="1.15"/>
<line x1="844.60" y1="237.01" x2="848.00" y2="237.01" stroke="#4d4d4d" stroke-width="1.15"/>
<line x1="844.60" y1="108.07" x2="848.00" y2="108.07" stroke="#4d4d4d" stroke-width="1.15"/>
<text transform="translate(48.81,453.50) scale(1.1375,1)" x="-0.73 13.42 25.36" font-size="22.62" font-weight="normal" fill="#000">−40</text>
<text transform="translate(118.47,453.50) scale(1.1375,1)" x="-0.73 13.42 25.36" font-size="22.62" font-weight="normal" fill="#000">−30</text>
<text transform="translate(188.14,453.50) scale(1.1375,1)" x="-0.73 13.42 25.36" font-size="22.62" font-weight="normal" fill="#000">−20</text>
<text transform="translate(257.80,453.50) scale(1.1375,1)" x="-0.73 13.42 25.36" font-size="22.62" font-weight="normal" fill="#000">−10</text>
<text transform="translate(341.89,453.50) scale(0.9949,1)" font-size="22.62" font-weight="normal" fill="#000">0</text>
<text transform="translate(406.11,453.50) scale(1.0376,1)" x="-2.01 11.09" font-size="22.62" font-weight="normal" fill="#000">10</text>
<text transform="translate(475.38,453.50) scale(1.0451,1)" x="-1.29 11.71" font-size="22.62" font-weight="normal" fill="#000">20</text>
<text transform="translate(545.08,453.50) scale(1.0301,1)" x="-1.28 11.91" font-size="22.62" font-weight="normal" fill="#000">30</text>
<text transform="translate(614.45,453.50) scale(1.0398,1)" x="-0.76 12.30" font-size="22.62" font-weight="normal" fill="#000">40</text>
<text transform="translate(827.31,453.50) scale(1.1375,1)" x="-0.73 13.42 25.36" font-size="22.62" font-weight="normal" fill="#000">−40</text>
<text transform="translate(897.02,453.50) scale(1.1375,1)" x="-0.73 13.42 25.36" font-size="22.62" font-weight="normal" fill="#000">−30</text>
<text transform="translate(966.73,453.50) scale(1.1375,1)" x="-0.73 13.42 25.36" font-size="22.62" font-weight="normal" fill="#000">−20</text>
<text transform="translate(1036.44,453.50) scale(1.1375,1)" x="-0.73 13.42 25.36" font-size="22.62" font-weight="normal" fill="#000">−10</text>
<text transform="translate(1120.58,453.50) scale(0.9949,1)" font-size="22.62" font-weight="normal" fill="#000">0</text>
<text transform="translate(1184.84,453.50) scale(1.0376,1)" x="-2.01 11.09" font-size="22.62" font-weight="normal" fill="#000">10</text>
<text transform="translate(1254.16,453.50) scale(1.0451,1)" x="-1.29 11.71" font-size="22.62" font-weight="normal" fill="#000">20</text>
<text transform="translate(1323.90,453.50) scale(1.0301,1)" x="-1.28 11.91" font-size="22.62" font-weight="normal" fill="#000">30</text>
<text transform="translate(1393.32,453.50) scale(1.0398,1)" x="-0.76 12.30" font-size="22.62" font-weight="normal" fill="#000">40</text>
<text transform="translate(29.87,438.62) scale(1.0488,1)" x="-1.16 11.70 18.27" font-size="22.62" font-weight="normal" fill="#000">0.0</text>
<text transform="translate(30.59,361.25) scale(1.0334,1)" x="-1.08 11.92 18.63" font-size="22.62" font-weight="normal" fill="#000">0.2</text>
<text transform="translate(29.65,283.87) scale(1.0483,1)" x="-1.15 11.71 18.28" font-size="22.62" font-weight="normal" fill="#000">0.4</text>
<text transform="translate(29.80,206.50) scale(1.0552,1)" x="-1.19 11.61 18.12" font-size="22.62" font-weight="normal" fill="#000">0.6</text>
<text transform="translate(29.91,129.12) scale(1.0509,1)" x="-1.17 11.67 18.22" font-size="22.62" font-weight="normal" fill="#000">0.8</text>
<text transform="translate(30.81,51.75) scale(1.0468,1)" x="-2.04 10.83 17.42" font-size="22.62" font-weight="normal" fill="#000">1.0</text>
<text transform="translate(635.40,438.62) scale(1.0580,1)" x="-1.20 11.57 18.05 30.89" font-size="22.62" font-weight="normal" fill="#000">0.00</text>
<text transform="translate(635.40,361.25) scale(1.0472,1)" x="-1.15 11.72 18.30 31.27" font-size="22.62" font-weight="normal" fill="#000">0.02</text>
<text transform="translate(635.40,283.87) scale(1.0576,1)" x="-1.20 11.58 18.06 30.90" font-size="22.62" font-weight="normal" fill="#000">0.04</text>
<text transform="translate(635.40,206.50) scale(1.0625,1)" x="-1.22 11.51 17.95 30.73" font-size="22.62" font-weight="normal" fill="#000">0.06</text>
<text transform="translate(635.40,129.12) scale(1.0595,1)" x="-1.21 11.55 18.02 30.84" font-size="22.62" font-weight="normal" fill="#000">0.08</text>
<text transform="translate(635.40,51.75) scale(1.0580,1)" x="-1.20 11.57 18.05 30.89" font-size="22.62" font-weight="normal" fill="#000">0.10</text>
<text transform="translate(807.27,374.15) scale(1.0488,1)" x="-1.16 11.70 18.27" font-size="22.62" font-weight="normal" fill="#000">0.0</text>
<text transform="translate(807.82,245.21) scale(1.0379,1)" x="-1.10 11.86 18.52" font-size="22.62" font-weight="normal" fill="#000">0.1</text>
<text transform="translate(807.99,116.27) scale(1.0334,1)" x="-1.08 11.92 18.63" font-size="22.62" font-weight="normal" fill="#000">0.2</text>
<text transform="translate(280.22,478.50) scale(1.0609,1)" x="-3.45 10.03 22.06 33.24 39.35 46.72 51.90 64.43 77.16 83.66 91.52 103.38 122.77" font-size="22.62" font-weight="normal" fill="#000">Position (km)</text>
<text transform="translate(1059.02,478.50) scale(1.0609,1)" x="-3.45 10.03 22.06 33.24 39.35 46.72 51.90 64.43 77.16 83.66 91.52 103.38 122.77" font-size="22.62" font-weight="normal" fill="#000">Position (km)</text>
<g transform="translate(18.90,420.70) rotate(-90)"><text transform="translate(0.00,0.00) scale(1.0267,1)" x="-2.32 11.90 24.93 30.71 36.42 49.67 56.48 62.47" font-size="22.62">Solid: M</text><text transform="translate(83.35,3.70) scale(0.9589,1)" font-size="15.84">2</text><text transform="translate(100.50,0.00) scale(1.0935,1)" x="-1.37 9.55 22.28 30.31 37.80 49.99 63.16 70.09 76.03 88.39 107.22 119.91 125.33 131.25 138.11 150.50 162.70 174.96 181.24 188.91 207.80 213.47" font-size="22.62">current amplitude (m s</text><text transform="translate(346.41,-8.00) scale(1.0150,1)" x="-0.70 4.87" font-size="15.84">-1</text><text transform="translate(362.18,0.00) scale(0.7978,1)" font-size="22.62">)</text></g>
<g transform="translate(704.70,434.30) rotate(-90)"><text transform="translate(0.00,0.00) scale(1.0322,1)" x="-2.24 13.94 26.30 37.61 50.53 63.45 76.65 83.42 89.35" font-size="22.62">Dashed: M</text><text transform="translate(111.54,3.70) scale(0.9950,1)" font-size="15.84">4</text><text transform="translate(128.64,0.00) scale(1.0935,1)" x="-1.37 9.55 22.28 30.31 37.80 49.99 63.16 70.09 76.03 88.39 107.22 119.91 125.33 131.25 138.11 150.50 162.70 174.96 181.24 188.91 207.80 213.47" font-size="22.62">current amplitude (m s</text><text transform="translate(374.55,-8.00) scale(1.0150,1)" x="-0.70 4.87" font-size="15.84">-1</text><text transform="translate(390.33,0.00) scale(0.7978,1)" font-size="22.62">)</text></g>
<g transform="translate(798.40,361.50) rotate(-90)"><text transform="translate(0.00,0.00) scale(1.0667,1)" x="-3.18 11.81 23.82 34.95 40.31 53.00 65.48 78.17 83.50 89.67 100.88 113.86 122.09 129.84 142.34 155.76 162.86 169.32 177.32 196.53 202.41" font-size="22.62">Residual current (m s</text><text transform="translate(228.23,-8.00) scale(1.0150,1)" x="-0.70 4.87" font-size="15.84">-1</text><text transform="translate(244.01,0.00) scale(0.7978,1)" font-size="22.62">)</text></g>
<text transform="translate(3.57,23.90) scale(0.9838,1)" font-size="30.00" font-weight="bold" fill="#000">A</text>
<text transform="translate(779.03,23.90) scale(0.9971,1)" font-size="29.60" font-weight="bold" fill="#000">B</text>
<rect x="78.3" y="52.6" width="76.0" height="84.3" rx="4" ry="4" fill="#fff" fill-opacity="0.8" stroke="#cccccc" stroke-width="1.1"/>
<line x1="84.2" y1="66.80" x2="122.7" y2="66.80" stroke="#3450a6" stroke-width="2.35"/>
<text transform="translate(136.49,73.80) scale(0.9502,1)" font-size="18.12" font-weight="normal" fill="#000">1</text>
<line x1="84.2" y1="93.35" x2="122.7" y2="93.35" stroke="#ea2a30" stroke-width="2.35"/>
<text transform="translate(136.93,100.35) scale(0.9589,1)" font-size="18.12" font-weight="normal" fill="#000">2</text>
<line x1="84.2" y1="119.90" x2="122.7" y2="119.90" stroke="#f2902e" stroke-width="2.35"/>
<text transform="translate(137.14,126.90) scale(0.9554,1)" font-size="18.12" font-weight="normal" fill="#000">3</text>
<text transform="translate(863.30,360.00) scale(1.1069,1)" x="-1.43 7.76 18.74 23.52 28.04 39.17 44.80 50.23 60.95 72.36 79.10 84.97 95.85" font-size="19.92" font-weight="normal" fill="#000">solid: bottom</text>
<text transform="translate(863.30,385.30) scale(1.0737,1)" x="-0.89 10.18 20.79 30.47 41.55 52.63 64.02 69.83 75.06 84.74 96.23 103.55 109.33 120.20 129.97" font-size="19.92" font-weight="normal" fill="#000">dashed: surface</text>
<text transform="translate(863.30,410.60) scale(1.1012,1)" x="-1.00 9.77 21.23 28.01 33.95 44.75 55.93 61.59 67.05 77.86 88.67 100.32 106.42 117.24 123.44 134.41 144.29 155.39 162.02 172.81 183.62 194.42" font-size="19.92" font-weight="normal" fill="#000">dotted: depth-averaged</text>
</svg>
</body></html>
